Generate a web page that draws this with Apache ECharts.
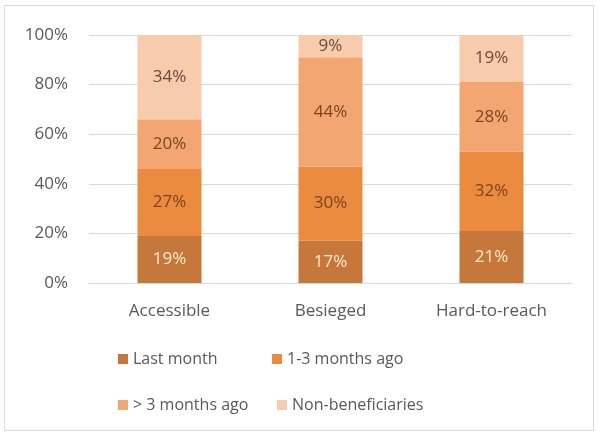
<!DOCTYPE html>
<html>
<head>
<meta charset="utf-8">
<script src="https://cdn.jsdelivr.net/npm/echarts@6/dist/echarts.min.js"></script>
<style>
  html, body { margin: 0; padding: 0; background: #fff; }
  #frame { position: absolute; left: 4px; top: 5px; width: 590px; height: 426px; border: 1px solid #d9d9d9; box-sizing: border-box; }
  #chart { position: absolute; left: 0; top: 0; width: 598px; height: 432px; }
</style>
</head>
<body>
<div id="frame"></div>
<div id="chart"></div>
<script>
// Share of respondents by time of last assistance, per access type
const categories = ['Accessible', 'Besieged', 'Hard-to-reach'];
const seriesNames = ['Last month', '1-3 months ago', '> 3 months ago', 'Non-beneficiaries'];
const lastMonth = [19, 17, 21];
const oneToThree = [27, 30, 32];
const overThree = [20, 44, 28];
const nonBeneficiaries = [34, 9, 19];
const yTicks = [0, 20, 40, 60, 80, 100];

const colors = ['#c5783a', '#eb8b3f', '#f4a672', '#f8cbad'];
const labelColors = ['#fdebcf', '#7a4422', '#7a4422', '#6b4a3a'];
const values = [lastMonth, oneToThree, overThree, nonBeneficiaries];

const font = '"Open Sans", "Noto Sans", sans-serif';

// legend laid out as a 2 x 2 block
const legendSlots = [
  { left: 113, top: 346 },
  { left: 267, top: 346 },
  { left: 113, top: 392 },
  { left: 272, top: 392 }
];

const chart = echarts.init(document.getElementById('chart'), null, { renderer: 'canvas' });
chart.setOption({
  animation: false,
  backgroundColor: 'transparent',
  textStyle: { fontFamily: font },
  grid: { left: 89, right: 26, top: 35, bottom: 149, containLabel: false },
  legend: seriesNames.map((name, i) => ({
    data: [name],
    left: legendSlots[i].left, top: legendSlots[i].top,
    itemWidth: 10, itemHeight: 10, itemGap: 0,
    icon: 'rect',
    textStyle: { color: '#595959', fontSize: 16, fontFamily: font }
  })),
  xAxis: {
    type: 'category',
    data: categories,
    axisLine: { show: true, lineStyle: { color: '#d9d9d9' } },
    axisTick: { show: false },
    axisLabel: { color: '#595959', fontSize: 17, margin: 20, fontFamily: font }
  },
  yAxis: {
    type: 'value',
    min: yTicks[0], max: yTicks[yTicks.length - 1], interval: 20,
    axisLine: { show: false },
    axisTick: { show: false },
    splitLine: { lineStyle: { color: '#d9d9d9' } },
    axisLabel: { color: '#595959', fontSize: 17, margin: 21, formatter: '{value}%', fontFamily: font }
  },
  series: seriesNames.map((name, i) => ({
    name,
    type: 'bar',
    stack: 'total',
    barWidth: 64,
    data: values[i],
    itemStyle: { color: colors[i] },
    label: {
      show: true,
      position: 'inside',
      formatter: '{c}%',
      color: labelColors[i],
      fontSize: 17,
      fontFamily: font
    }
  }))
});
</script>
</body>
</html>
